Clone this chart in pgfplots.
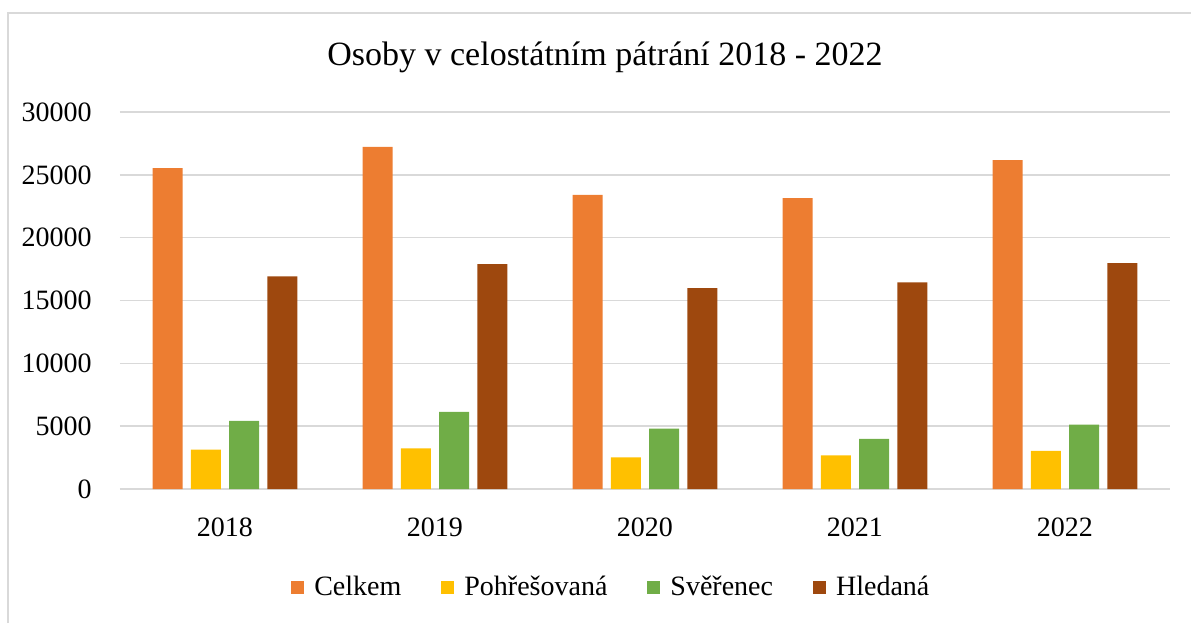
\documentclass[border=0pt]{standalone}
\usepackage{fontspec}
\setmainfont{Liberation Serif}
\usepackage{pgfplots}
\pgfplotsset{compat=1.18}
\definecolor{cCelkem}{HTML}{ED7D31}
\definecolor{cPohr}{HTML}{FFC000}
\definecolor{cSver}{HTML}{70AD47}
\definecolor{cHled}{HTML}{9E480E}
\definecolor{gridgray}{HTML}{D9D9D9}
\pgfplotstableread{
x Celkem Pohr Sver Hled
0 25530 3140 5420 16930
1 27230 3240 6130 17900
2 23410 2520 4800 15980
3 23140 2680 3980 16450
4 26170 3030 5130 17970
}\datatable
\begin{document}
\begin{tikzpicture}[x=1pt,y=1pt]
\useasboundingbox (-60,-67) rectangle (535.5,244.5);
\draw[color=gridgray, line width=1pt] (-56,-67) -- (-56,238) -- (535.5,238);
\begin{axis}[
  at={(0,0)}, anchor=south west,
  scale only axis, width=525pt, height=188.5pt,
  xmin=-0.5, xmax=4.5, ymin=0, ymax=30000,
  xtick={0,1,2,3,4}, xticklabels={2018,2019,2020,2021,2022},
  ytick={0,5000,10000,15000,20000,25000,30000},
  scaled y ticks=false,
  /pgf/number format/.cd, 1000 sep={}, assume math mode=true, /pgfplots/.cd,
  ymajorgrids, grid style={color=gridgray, line width=0.8pt},
  axis line style={draw=none},
  major tick style={draw=none},
  tick label style={font=\fontsize{14}{16}\selectfont},
  yticklabel style={anchor=east, inner sep=0pt, xshift=-14pt},
  xticklabel style={anchor=north, inner sep=0pt, yshift=-14pt},
  clip=false,
  legend style={at={(axis description cs:0.467,-0.26)}, anchor=center, draw=none,
    font=\fontsize{14}{16}\selectfont, legend columns=4,
    nodes={inner sep=0pt},
    /tikz/every odd column/.append style={column sep=5pt},
    /tikz/every even column/.append style={column sep=20pt}},
  legend cell align=left,
]
\addplot[ybar, bar width=0.143, bar shift=-0.273, fill=cCelkem, draw=none,
  legend image code/.code={\fill[cCelkem] (0pt,-3.25pt) rectangle (6.5pt,3.25pt);}]
  table[x=x, y=Celkem] {\datatable};
\addlegendentry{Celkem}
\addplot[ybar, bar width=0.143, bar shift=-0.091, fill=cPohr, draw=none,
  legend image code/.code={\fill[cPohr] (0pt,-3.25pt) rectangle (6.5pt,3.25pt);}]
  table[x=x, y=Pohr] {\datatable};
\addlegendentry{Pohřešovaná}
\addplot[ybar, bar width=0.143, bar shift=0.091, fill=cSver, draw=none,
  legend image code/.code={\fill[cSver] (0pt,-3.25pt) rectangle (6.5pt,3.25pt);}]
  table[x=x, y=Sver] {\datatable};
\addlegendentry{Svěřenec}
\addplot[ybar, bar width=0.143, bar shift=0.273, fill=cHled, draw=none,
  legend image code/.code={\fill[cHled] (0pt,-3.25pt) rectangle (6.5pt,3.25pt);}]
  table[x=x, y=Hled] {\datatable};
\addlegendentry{Hledaná}
\end{axis}
\node[font=\fontsize{17}{20}\selectfont, inner sep=0pt] at (242.5,216) {Osoby v celostátním pátrání 2018 - 2022};
\end{tikzpicture}
\end{document}
